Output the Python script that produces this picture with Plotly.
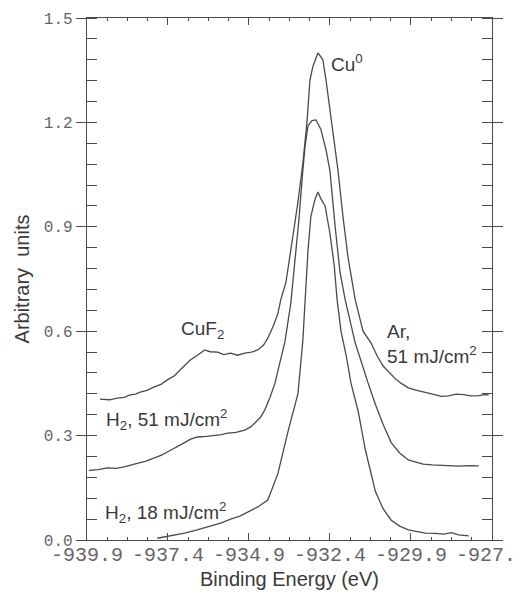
import plotly.graph_objects as go

# ---- data (binding energy in eV, intensity in arbitrary units) ----
ar51_energy = [-939.50, -939.20, -938.97, -938.75, -938.57, -938.40, -938.26, -938.05, -937.82, -937.62,
               -937.42, -937.20, -937.02, -936.85, -936.71, -936.50, -936.27, -936.10, -935.87, -935.68,
               -935.47, -935.25, -935.03, -934.82, -934.63, -934.45, -934.32, -934.15, -934.01, -933.92,
               -933.76, -933.55, -933.39, -933.24, -933.11, -933.02, -932.93, -932.77, -932.62, -932.52,
               -932.40, -932.31, -932.21, -932.15, -932.00, -931.84, -931.62, -931.38, -931.13, -930.95,
               -930.76, -930.55, -930.38, -930.20, -929.98, -929.75, -929.52, -929.30, -929.14, -928.95,
               -928.74, -928.50, -928.28, -928.05, -927.81, -927.62, -927.50]
ar51_value = [0.405, 0.403, 0.408, 0.410, 0.417, 0.419, 0.425, 0.430, 0.440, 0.447,
              0.460, 0.472, 0.489, 0.503, 0.517, 0.530, 0.546, 0.541, 0.540, 0.533,
              0.537, 0.531, 0.537, 0.540, 0.546, 0.560, 0.580, 0.615, 0.650, 0.690,
              0.740, 0.870, 0.970, 1.080, 1.200, 1.320, 1.360, 1.400, 1.380, 1.320,
              1.240, 1.170, 1.100, 1.060, 0.930, 0.810, 0.690, 0.600, 0.566, 0.530,
              0.500, 0.478, 0.463, 0.450, 0.437, 0.431, 0.425, 0.420, 0.417, 0.413,
              0.414, 0.419, 0.418, 0.414, 0.415, 0.418, 0.417]

h2_51_energy = [-939.84, -939.55, -939.28, -939.00, -938.75, -938.55, -938.35, -938.10, -937.82, -937.62,
                -937.42, -937.15, -936.89, -936.70, -936.49, -936.20, -935.96, -935.75, -935.56, -935.30,
                -935.03, -934.85, -934.72, -934.55, -934.41, -934.25, -934.10, -933.95, -933.79, -933.61,
                -933.48, -933.36, -933.24, -933.17, -933.08, -932.96, -932.83, -932.68, -932.52, -932.40,
                -932.24, -932.09, -931.93, -931.62, -931.22, -931.00, -930.75, -930.51, -930.25, -929.98,
                -929.75, -929.52, -929.25, -928.96, -928.70, -928.43, -928.10, -927.81]
h2_51_value = [0.200, 0.202, 0.207, 0.206, 0.210, 0.214, 0.220, 0.226, 0.235, 0.243,
               0.253, 0.268, 0.280, 0.290, 0.296, 0.298, 0.300, 0.303, 0.307, 0.309,
               0.316, 0.325, 0.336, 0.352, 0.374, 0.410, 0.450, 0.505, 0.570, 0.680,
               0.800, 0.920, 1.060, 1.130, 1.190, 1.205, 1.207, 1.180, 1.120, 1.060,
               0.900, 0.770, 0.690, 0.566, 0.450, 0.390, 0.330, 0.280, 0.250, 0.230,
               0.224, 0.218, 0.216, 0.215, 0.213, 0.212, 0.214, 0.213]

h2_18_energy = [-937.73, -937.30, -936.89, -936.50, -936.09, -935.75, -935.47, -935.20, -934.94, -934.63,
                -934.32, -934.01, -933.70, -933.39, -933.24, -933.17, -933.08, -932.99, -932.86, -932.77,
                -932.68, -932.55, -932.40, -932.27, -932.18, -932.06, -931.90, -931.75, -931.53, -931.31,
                -931.00, -930.76, -930.51, -930.25, -929.98, -929.70, -929.45, -929.15, -928.90, -928.65,
                -928.43, -928.12]
h2_18_value = [0.005, 0.012, 0.020, 0.029, 0.040, 0.049, 0.060, 0.068, 0.080, 0.095,
               0.115, 0.190, 0.310, 0.420, 0.570, 0.690, 0.830, 0.930, 0.980, 1.000,
               0.980, 0.960, 0.880, 0.790, 0.690, 0.600, 0.530, 0.450, 0.370, 0.260,
               0.140, 0.090, 0.057, 0.040, 0.029, 0.024, 0.020, 0.019, 0.017, 0.021,
               0.015, 0.012]

x_tick_values = [-939.9, -937.4, -934.9, -932.4, -929.9, -927.4]
x_tick_labels = ["-939.9", "-937.4", "-934.9", "-932.4", "-929.9", "-927.4"]
y_tick_values = [0.0, 0.3, 0.6, 0.9, 1.2, 1.5]
y_tick_labels = ["0.0", "0.3", "0.6", "0.9", "1.2", "1.5"]

X_RANGE = [-939.9, -927.399]
line_color = "#4a4a4a"
text_color = "#3a3a3a"

fig = go.Figure()
for xs, ys in [(ar51_energy, ar51_value), (h2_51_energy, h2_51_value), (h2_18_energy, h2_18_value)]:
    fig.add_trace(go.Scatter(x=xs, y=ys, mode="lines",
                             line=dict(color=line_color, width=1.3), showlegend=False))
# empty trace so the label axis (xaxis2) is drawn
fig.add_trace(go.Scatter(x=[], y=[], xaxis="x2", yaxis="y", showlegend=False, hoverinfo="skip"))

ann_font = dict(family="Liberation Sans, Arial, sans-serif", size=19, color=text_color)
annotations = [
    dict(x=-932.44, y=1.372, text="Cu<sup>0</sup>", xanchor="left", yanchor="middle"),
    dict(x=-936.33, y=0.603, text="CuF<sub>2</sub>", xanchor="center", yanchor="middle"),
    dict(x=-930.70, y=0.562, text="Ar,<br>51 mJ/cm<sup>2</sup>", xanchor="left", yanchor="middle", align="left"),
    dict(x=-939.38, y=0.345, text="H<sub>2</sub>, 51 mJ/cm<sup>2</sup>", xanchor="left", yanchor="middle"),
    dict(x=-939.40, y=0.080, text="H<sub>2</sub>, 18 mJ/cm<sup>2</sup>", xanchor="left", yanchor="middle"),
]
for a in annotations:
    a.update(xref="x", yref="y", showarrow=False, font=ann_font)

fig.update_layout(
    width=517, height=586,
    margin=dict(l=79, r=33, t=10, b=54),
    paper_bgcolor="white", plot_bgcolor="white",
    annotations=annotations,
    font=dict(family="Liberation Sans, Arial, sans-serif", color=text_color),
    xaxis=dict(
        range=X_RANGE, tickmode="linear", tick0=-939.9, dtick=2.5,
        showticklabels=False,
        ticks="inside", ticklen=7, tickcolor=line_color,
        minor=dict(tickmode="linear", tick0=-939.9, dtick=0.625, ticks="inside", ticklen=3, tickcolor=line_color),
        showline=True, linecolor=line_color, linewidth=1.3, mirror="allticks",
        showgrid=False, zeroline=False, automargin=False,
        title=dict(text="Binding Energy (eV)", font=dict(size=20, color=text_color), standoff=31),
    ),
    xaxis2=dict(
        range=X_RANGE, overlaying="x", anchor="y", side="bottom",
        tickmode="array", tickvals=x_tick_values, ticktext=x_tick_labels,
        tickfont=dict(family="Liberation Mono, monospace", size=20, color="#666"),
        ticklabeloverflow="allow",
        ticks="", showline=False, showgrid=False, zeroline=False, automargin=False,
    ),
    yaxis=dict(
        range=[0, 1.5], tickmode="linear", tick0=0, dtick=0.3, tickformat=".1f",
        tickfont=dict(family="Liberation Mono, monospace", size=16, color="#666"),
        ticks="outside", ticklen=10, tickcolor=line_color,
        minor=dict(tickmode="linear", tick0=0, dtick=0.06, ticks="inside", ticklen=4, tickcolor=line_color),
        showline=True, linecolor=line_color, linewidth=1.3, mirror="allticks",
        showgrid=False, zeroline=False, automargin=False,
        title=dict(text="Arbitrary  units", font=dict(size=20, color=text_color), standoff=8),
    ),
)

fig.write_html("out.html")
